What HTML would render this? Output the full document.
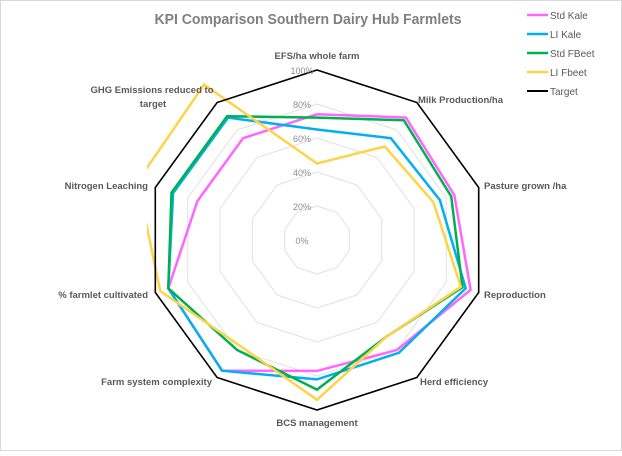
<!DOCTYPE html>
<html><head><meta charset="utf-8"><style>
html,body{margin:0;padding:0;background:#fff;}
svg text{font-family:"Liberation Sans",sans-serif;}
</style></head><body>
<svg id="s" width="622" height="451" xmlns="http://www.w3.org/2000/svg">
<rect x="0.5" y="0.5" width="621" height="450" fill="#fff" stroke="#d9d9d9"/>
<defs><clipPath id="c"><rect x="147" y="30" width="380" height="410"/></clipPath></defs>
<text x="308" y="24" text-anchor="middle" font-size="14.5" font-weight="bold" fill="#7f7f7f" textLength="307" lengthAdjust="spacingAndGlyphs">KPI Comparison Southern Dairy Hub Farmlets</text>
<g id="grid"></g>
<g id="series" clip-path="url(#c)"></g>
<g font-size="9.5" font-weight="bold" fill="#595959">
<text x="317" y="59" text-anchor="middle">EFS/ha whole farm</text>
<text x="418" y="103">Milk Production/ha</text>
<text x="484" y="189">Pasture grown /ha</text>
<text x="484" y="298">Reproduction</text>
<text x="420" y="385">Herd efficiency</text>
<text x="317" y="426" text-anchor="middle">BCS management</text>
<text x="212" y="385" text-anchor="end">Farm system complexity</text>
<text x="148" y="298" text-anchor="end">% farmlet cultivated</text>
<text x="148" y="189" text-anchor="end">Nitrogen Leaching</text>
<text x="152" y="93" text-anchor="middle">GHG Emissions reduced to</text>
<text x="153" y="107" text-anchor="middle">target</text>
</g>
<g font-size="9" fill="#8c8c8c" text-anchor="middle">
<text x="302" y="74">100%</text><text x="302" y="108">80%</text><text x="302" y="142">60%</text>
<text x="302" y="176">40%</text><text x="302" y="210">20%</text><text x="302" y="244">0%</text>
</g>
<g font-size="10" fill="#595959">
<line x1="527" y1="15" x2="548" y2="15" stroke="#ff66ff" stroke-width="2.5"/><text x="550" y="19">Std Kale</text>
<line x1="527" y1="34" x2="548" y2="34" stroke="#00b0f0" stroke-width="2.5"/><text x="550" y="38">LI Kale</text>
<line x1="527" y1="53" x2="548" y2="53" stroke="#00b050" stroke-width="2.5"/><text x="550" y="57">Std FBeet</text>
<line x1="527" y1="72" x2="548" y2="72" stroke="#ffd347" stroke-width="2.5"/><text x="550" y="76">LI Fbeet</text>
<line x1="527" y1="91" x2="548" y2="91" stroke="#000" stroke-width="2"/><text x="550" y="95">Target</text>
</g>
</svg>
<script>
var cx=317,cy=240,R=170,NS="http://www.w3.org/2000/svg";
function pts(v){return v.map(function(r,i){var a=i*Math.PI/5;return (cx+Math.sin(a)*r*R).toFixed(1)+","+(cy-Math.cos(a)*r*R).toFixed(1);}).join(" ");}
function poly(g,v,col,w){var p=document.createElementNS(NS,"polygon");p.setAttribute("points",pts(v));p.setAttribute("fill","none");p.setAttribute("stroke",col);p.setAttribute("stroke-width",w);p.setAttribute("stroke-linejoin","miter");document.getElementById(g).appendChild(p);}
[0.2,0.4,0.6,0.8].forEach(function(k){poly("grid",[k,k,k,k,k,k,k,k,k,k],"#e0e0e0",1);});
poly("series",[0.74,0.89,0.85,0.95,0.80,0.77,0.95,0.92,0.74,0.74],"#ff66ff",2.5);
poly("series",[0.65,0.74,0.76,0.92,0.82,0.82,0.95,0.92,0.89,0.89],"#00b0f0",2.5);
poly("series",[0.72,0.87,0.83,0.90,0.70,0.88,0.80,0.92,0.90,0.90],"#00b050",2.5);
poly("series",[0.45,0.68,0.72,0.89,0.70,0.94,0.77,0.97,1.11,1.13],"#ffd347",2.5);
poly("series",[1,1,1,1,1,1,1,1,1,1],"#000",1.6);
</script>
</body></html>
